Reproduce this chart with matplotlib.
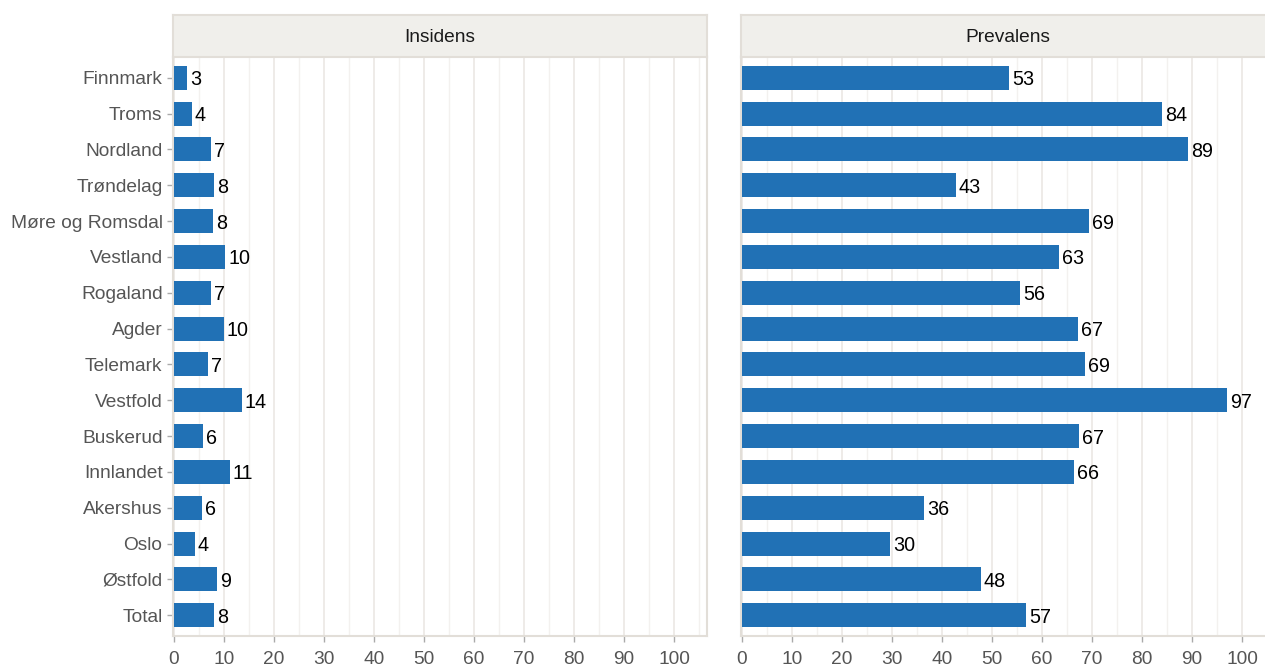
import matplotlib
matplotlib.use("Agg")
import matplotlib.pyplot as plt
import numpy as np
from matplotlib.ticker import MultipleLocator

plt.rcParams['font.family'] = ['Liberation Sans', 'DejaVu Sans']

regions = ["Finnmark", "Troms", "Nordland", "Trøndelag", "Møre og Romsdal", "Vestland",
           "Rogaland", "Agder", "Telemark", "Vestfold", "Buskerud", "Innlandet",
           "Akershus", "Oslo", "Østfold", "Total"]
insidens = [2.6, 3.6, 7.4, 8.0, 7.8, 10.3, 7.4, 10.0, 6.8, 13.6, 5.8, 11.2, 5.6, 4.2, 8.6, 8.0]
prevalens = [53.4, 84.0, 89.2, 42.8, 69.4, 63.4, 55.6, 67.2, 68.6, 97.0, 67.4, 66.4, 36.4, 29.6, 47.8, 56.8]
panel_titles = ["Insidens", "Prevalens"]
xticks = list(range(0, 101, 10))

W, H = 1265, 666
fig = plt.figure(figsize=(W / 100, H / 100), dpi=100)

bar_color = "#2171b5"
border = "#e2ded8"
strip_bg = "#f0efeb"
grid_major = "#ebe8e4"
grid_minor = "#f3f1ef"

panels = [(173, insidens), (741, prevalens)]
pw = 534
ptop, pbot = 57, 636
stop = 15
fs = 13.8

y = np.arange(len(regions))[::-1]

for i, ((x0, vals), title) in enumerate(zip(panels, panel_titles)):
    ax = fig.add_axes([x0 / W, (H - pbot) / H, pw / W, (pbot - ptop) / H])
    ax.barh(y, vals, height=0.67, color=bar_color, zorder=3)
    for yy, v in zip(y, vals):
        ax.annotate(f"{round(v):d}", (v, yy), xytext=(2, 0), textcoords="offset points",
                    va="center_baseline", ha="left", fontsize=14.2, color="black", zorder=4)
    ax.set_xlim(-0.2, 106.6)
    ax.set_ylim(-0.58, 15.58)
    ax.xaxis.set_major_locator(MultipleLocator(10))
    ax.xaxis.set_minor_locator(MultipleLocator(5))
    ax.set_xticks(xticks)
    ax.grid(which="major", axis="x", color=grid_major, linewidth=1.2, zorder=0)
    ax.grid(which="minor", axis="x", color=grid_minor, linewidth=1.0, zorder=0)
    ax.set_axisbelow(True)
    for s in ["left", "right", "bottom"]:
        ax.spines[s].set_color(border)
        ax.spines[s].set_linewidth(1.5)
    ax.spines["top"].set_visible(False)
    ax.tick_params(axis="x", which="major", colors="#555555", labelsize=fs, length=4.3,
                   width=1, color="#aaaaaa", pad=6.5)
    ax.tick_params(axis="x", which="minor", length=0)
    if i == 0:
        ax.set_yticks(y)
        ax.set_yticklabels(regions)
        ax.tick_params(axis="y", colors="#555555", labelsize=fs, length=4, width=1,
                       color="#aaaaaa", pad=3.5)
    else:
        ax.set_yticks([])
    # strip
    sax = fig.add_axes([x0 / W, (H - ptop) / H, pw / W, (ptop - stop) / H])
    sax.set_facecolor(strip_bg)
    sax.set_xticks([])
    sax.set_yticks([])
    for s in sax.spines.values():
        s.set_color(border)
        s.set_linewidth(1.5)
    sax.text(0.5, 0.5, title, ha="center", va="center_baseline", fontsize=fs, color="#1a1a1a",
             transform=sax.transAxes)

fig.savefig("out.png", dpi=100)
